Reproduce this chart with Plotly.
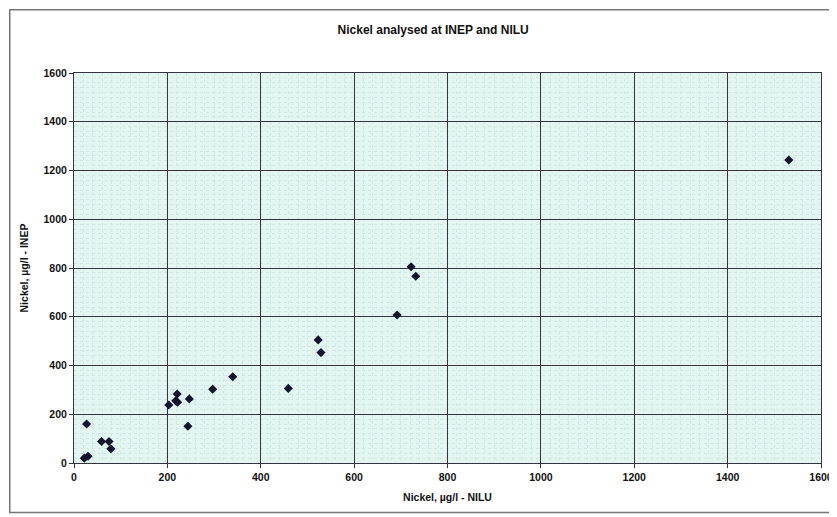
import plotly.graph_objects as go

# Data
nilu = [22, 30, 27, 59, 75, 79, 203, 221, 218, 222, 247, 244, 297, 340, 459, 523, 529, 692, 722, 732, 1531]
inep = [20, 28, 160, 88, 88, 58, 238, 283, 255, 249, 263, 151, 303, 354, 306, 505, 453, 607, 805, 766, 1243]
tick_vals = [0, 200, 400, 600, 800, 1000, 1200, 1400, 1600]

title_text = "Nickel analysed at INEP and NILU"
x_title = "Nickel, µg/l - NILU"
y_title = "Nickel, µg/l - INEP"

FONT = "Liberation Sans, Arial, sans-serif"

fig = go.Figure()
fig.add_trace(go.Scatter(
    x=nilu, y=inep, mode="markers",
    marker=dict(symbol="diamond", size=7, color="#14142e", line=dict(width=0)),
    showlegend=False,
))

axis_common = dict(
    range=[0, 1600],
    tickvals=tick_vals,
    ticks="outside",
    ticklen=4,
    tickcolor="#333333",
    showgrid=True,
    gridcolor="#353540",
    gridwidth=1,
    zeroline=False,
    showline=True,
    linecolor="#353540",
    linewidth=1,
    mirror=True,
    ticklabeloverflow="allow",
    tickfont=dict(family=FONT, size=10.5, color="#111111", weight="bold"),
    minor=dict(dtick=20, showgrid=True, gridcolor="#d0e8e4", griddash="dot", gridwidth=1),
)

fig.update_layout(
    width=837, height=517,
    margin=dict(l=66, r=17, t=65, b=62),
    paper_bgcolor="white",
    plot_bgcolor="#e2f5f1",
    font=dict(family=FONT, color="#111111"),
    title=dict(
        text=title_text, x=0.508, xanchor="center", y=0.957, yanchor="middle",
        font=dict(family=FONT, size=12, color="#111111", weight="bold"),
    ),
    xaxis=dict(**axis_common,
               title=dict(text=x_title, standoff=12,
                          font=dict(family=FONT, size=10.5, color="#111111", weight="bold"))),
    yaxis=dict(**axis_common,
               title=dict(text=y_title, standoff=12,
                          font=dict(family=FONT, size=10.5, color="#111111", weight="bold"))),
    shapes=[dict(
        type="rect", xref="paper", yref="paper",
        x0=-0.086, x1=1.05, y0=-0.1267, y1=1.162,
        line=dict(color="#777777", width=1.5), fillcolor="rgba(0,0,0,0)", layer="below",
    )],
)

fig.write_html("out.html")
